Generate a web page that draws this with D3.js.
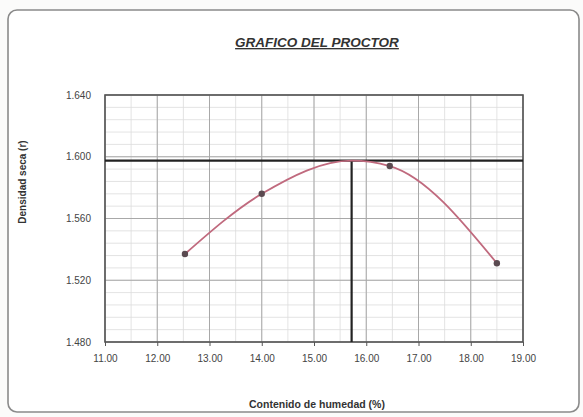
<!DOCTYPE html>
<html><head><meta charset="utf-8">
<script src="https://cdn.jsdelivr.net/npm/d3@7"></script>
<style>body{margin:0;background:#fff}svg{display:block}</style>
</head><body>
<svg id="c" width="583" height="417"></svg>
<script>
const moisture = [12.53, 14.0, 16.45, 18.5];
const density = [1.537, 1.576, 1.594, 1.531];
const optMoisture = 15.72;
const maxDensity = 1.5975;
const curveX = [12.53, 14.0, 15.72, 16.45, 18.5];
const curveY = [1.537, 1.576, 1.5975, 1.594, 1.531];
const xTicks = [11, 12, 13, 14, 15, 16, 17, 18, 19];
const yTicks = [1.48, 1.52, 1.56, 1.60, 1.64];

const svg = d3.select("#c");
svg.append("rect").attr("width",583).attr("height",417).attr("fill","#fbfbfa");
svg.append("rect").attr("x",8).attr("y",10).attr("width",571).attr("height",402).attr("rx",9)
  .attr("fill","#fff").attr("stroke","#8a8a8a").attr("stroke-width",1.6);

const x = d3.scaleLinear().domain([11,19]).range([105,523]);
const y = d3.scaleLinear().domain([1.48,1.64]).range([342,95]);
const g = svg.append("g");

// minor grid
const xMinor = d3.range(11,19.01,0.5);
const yMinor = d3.range(1.48,1.6401,0.008);
g.selectAll(".xm").data(xMinor).join("line").attr("x1",d=>x(d)).attr("x2",d=>x(d))
  .attr("y1",y(1.64)).attr("y2",y(1.48)).attr("stroke","#dcdcdc").attr("stroke-width",0.8);
g.selectAll(".ym").data(yMinor).join("line").attr("y1",d=>y(d)).attr("y2",d=>y(d))
  .attr("x1",x(11)).attr("x2",x(19)).attr("stroke","#dcdcdc").attr("stroke-width",0.8);
// major grid
g.selectAll(".xg").data(xTicks).join("line").attr("x1",d=>x(d)).attr("x2",d=>x(d))
  .attr("y1",y(1.64)).attr("y2",y(1.48)).attr("stroke","#a8a8a8").attr("stroke-width",1);
g.selectAll(".yg").data(yTicks).join("line").attr("y1",d=>y(d)).attr("y2",d=>y(d))
  .attr("x1",x(11)).attr("x2",x(19)).attr("stroke","#a8a8a8").attr("stroke-width",1);

// axes
const xAxis = g.append("g").attr("transform",`translate(0,${y(1.48)})`)
  .call(d3.axisBottom(x).tickValues(xTicks).tickFormat(d3.format(".2f")).tickSize(4).tickPadding(9));
const yAxis = g.append("g").attr("transform",`translate(${x(11)},0)`)
  .call(d3.axisLeft(y).tickValues(yTicks).tickFormat(d3.format(".3f")).tickSize(0).tickPadding(14));
[xAxis,yAxis].forEach(a=>{
  a.select(".domain").remove();
  a.selectAll("line").attr("stroke","#555");
  a.selectAll("text").attr("fill","#444").style("font-family","Liberation Sans, Arial, sans-serif").style("font-size","10px");
});
// plot border
g.append("rect").attr("x",x(11)).attr("y",y(1.64)).attr("width",x(19)-x(11)).attr("height",y(1.48)-y(1.64))
  .attr("fill","none").attr("stroke","#555").attr("stroke-width",1.6);

// optimum lines
g.append("line").attr("x1",x(11)).attr("x2",x(19)).attr("y1",y(maxDensity)).attr("y2",y(maxDensity))
  .attr("stroke","#222").attr("stroke-width",2.2);
g.append("line").attr("x1",x(optMoisture)).attr("x2",x(optMoisture)).attr("y1",y(maxDensity)).attr("y2",y(1.48))
  .attr("stroke","#222").attr("stroke-width",2.2);

// curve
const pts = curveX.map((d,i)=>[d,curveY[i]]);
g.append("path").datum(pts).attr("fill","none").attr("stroke","#c06a7e").attr("stroke-width",1.8)
  .attr("d",d3.line().x(d=>x(d[0])).y(d=>y(d[1])).curve(d3.curveMonotoneX));
// markers
g.selectAll(".pt").data(moisture.map((d,i)=>[d,density[i]])).join("circle")
  .attr("cx",d=>x(d[0])).attr("cy",d=>y(d[1])).attr("r",3.2).attr("fill","#5a4a50");

// title and labels
svg.append("text").attr("x",317).attr("y",47).attr("text-anchor","middle")
  .style("font-family","Liberation Sans, Arial, sans-serif").style("font-size","13.5px")
  .style("font-weight","bold").style("font-style","italic").style("text-decoration","underline")
  .attr("fill","#333").text("GRAFICO DEL PROCTOR");
svg.append("text").attr("x",317).attr("y",408).attr("text-anchor","middle")
  .style("font-family","Liberation Sans, Arial, sans-serif").style("font-size","10.5px").style("font-weight","bold")
  .attr("fill","#333").text("Contenido de humedad (%)");
svg.append("text").attr("transform","translate(26,182) rotate(-90)").attr("text-anchor","middle")
  .style("font-family","Liberation Sans, Arial, sans-serif").style("font-size","10px").style("font-weight","bold")
  .attr("fill","#333").text("Densidad seca (r)");
</script>
</body></html>
